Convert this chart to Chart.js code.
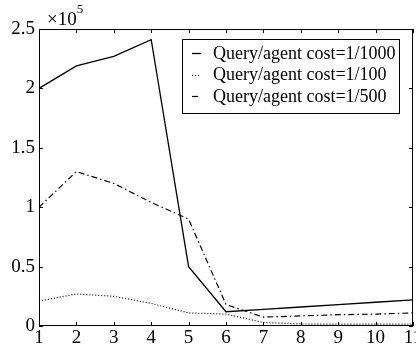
<!DOCTYPE html>
<html>
<head>
<meta charset="utf-8">
<script src="https://cdn.jsdelivr.net/npm/chart.js@4.4.1/dist/chart.umd.min.js"></script>
<style>
  html, body { margin: 0; padding: 0; background: #fff; }
  #wrap { width: 416px; height: 345px; }
</style>
</head>
<body>
<div id="wrap"><canvas id="chart" width="416" height="345"></canvas></div>
<script>
// x categories (runs) and series, values in units of 1e5
const xLabels = ['1', '2', '3', '4', '5', '6', '7', '8', '9', '10', '11'];
const cost1000 = [2.00, 2.19, 2.27, 2.41, 0.50, 0.12, 0.14, 0.16, 0.18, 0.20, 0.22];
const cost100 = [0.21, 0.27, 0.25, 0.19, 0.11, 0.10, 0.03, 0.017, 0.015, 0.015, 0.015];
const cost500 = [1.00, 1.30, 1.20, 1.04, 0.90, 0.18, 0.075, 0.085, 0.095, 0.10, 0.11];
const yTicks = [0, 0.5, 1, 1.5, 2, 2.5];
const legendLabels = ['Query/agent cost=1/1000', 'Query/agent cost=1/100', 'Query/agent cost=1/500'];

const SERIF = "'Liberation Serif', 'Times New Roman', serif";

// box around the plot with inward ticks on all four sides
const frameTicks = {
    id: 'frameTicks',
    afterDraw: (chart) => {
        const ctx = chart.ctx;
        const a = chart.chartArea;
        const xs = chart.scales.x;
        const ys = chart.scales.y;
        const len = 4;

        ctx.save();
        ctx.strokeStyle = '#000';
        ctx.lineWidth = 1;
        ctx.strokeRect(Math.round(a.left) + 0.5, Math.round(a.top) + 0.5,
            Math.round(a.right - a.left) - 1, Math.round(a.bottom - a.top) - 1);

        ctx.beginPath();
        xs.ticks.forEach((t, i) => {
            const px = Math.round(xs.getPixelForTick(i)) + 0.5;
            ctx.moveTo(px, a.bottom);
            ctx.lineTo(px, a.bottom - len);
            ctx.moveTo(px, a.top);
            ctx.lineTo(px, a.top + len);
        });
        ys.ticks.forEach((t) => {
            const py = Math.round(ys.getPixelForValue(t.value)) + 0.5;
            ctx.moveTo(a.left, py);
            ctx.lineTo(a.left + len, py);
            ctx.moveTo(a.right, py);
            ctx.lineTo(a.right - len, py);
        });
        ctx.stroke();

        // exponent label
        ctx.fillStyle = '#000';
        ctx.textBaseline = 'alphabetic';
        ctx.textAlign = 'left';
        ctx.font = '19px ' + SERIF;
        ctx.fillText('\u00d710', 47, 25);
        const w = ctx.measureText('\u00d710').width;
        ctx.font = '13px ' + SERIF;
        ctx.fillText('5', 47 + w, 13);
        ctx.restore();
    }
};

// legend box in the top right of the plot
const boxLegend = {
    id: 'boxLegend',
    afterDraw: (chart) => {
        const ctx = chart.ctx;
        const left = 182, top = 39, right = 399, bottom = 113;
        ctx.save();
        ctx.fillStyle = '#fff';
        ctx.fillRect(left, top, right - left, bottom - top);
        ctx.strokeStyle = '#000';
        ctx.lineWidth = 1;
        ctx.strokeRect(left + 0.5, top + 0.5, right - left, bottom - top);

        ctx.font = '18px ' + SERIF;
        ctx.textBaseline = 'middle';
        ctx.fillStyle = '#000';
        chart.data.datasets.forEach((ds, i) => {
            const y = 53 + i * 21.5;
            ctx.beginPath();
            ctx.setLineDash(ds.borderDash || []);
            ctx.lineWidth = ds.borderWidth;
            ctx.moveTo(192, Math.round(y) + 0.5);
            ctx.lineTo(201, Math.round(y) + 0.5);
            ctx.stroke();
            ctx.setLineDash([]);
            ctx.fillText(ds.label, 213, y + 1);
        });
        ctx.restore();
    }
};

new Chart(document.getElementById('chart'), {
    type: 'line',
    data: {
        labels: xLabels,
        datasets: [
            {
                label: legendLabels[0],
                data: cost1000,
                borderColor: '#000',
                borderWidth: 1.3,
                borderDash: []
            },
            {
                label: legendLabels[1],
                data: cost100,
                borderColor: '#000',
                borderWidth: 1.2,
                borderDash: [1, 2]
            },
            {
                label: legendLabels[2],
                data: cost500,
                borderColor: '#000',
                borderWidth: 1.2,
                borderDash: [6, 3, 1.5, 3]
            }
        ]
    },
    options: {
        responsive: false,
        animation: false,
        layout: { padding: { top: 29, right: 3, left: 0, bottom: 0 } },
        plugins: {
            legend: { display: false },
            tooltip: { enabled: false }
        },
        elements: {
            point: { radius: 0 },
            line: { tension: 0 }
        },
        scales: {
            x: {
                type: 'category',
                offset: false,
                grid: { display: false, drawTicks: false },
                border: { display: false },
                ticks: {
                    color: '#000',
                    font: { family: SERIF, size: 19 },
                    padding: 1,
                    maxRotation: 0,
                    autoSkip: false
                },
                afterFit: (s) => {
                    s.height = 19;
                    s.paddingLeft = 0;
                    s.paddingRight = 0;
                }
            },
            y: {
                min: 0,
                max: 2.5,
                grid: { display: false, drawTicks: false },
                border: { display: false },
                ticks: {
                    color: '#000',
                    font: { family: SERIF, size: 19 },
                    padding: 4,
                    callback: (v) => String(v)
                },
                afterBuildTicks: (s) => {
                    s.ticks = yTicks.map(v => ({ value: v }));
                },
                afterFit: (s) => {
                    s.width = 39;
                    s.paddingTop = 0;
                    s.paddingBottom = 0;
                }
            }
        }
    },
    plugins: [frameTicks, boxLegend]
});
</script>
</body>
</html>
